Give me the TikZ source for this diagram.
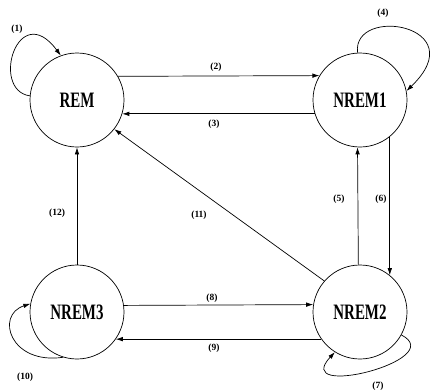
\documentclass[tikz,border=0pt]{standalone}
\usepackage{fontspec}
\usepackage{graphicx}
\setmainfont{Liberation Serif}
\usetikzlibrary{arrows.meta}
\begin{document}
\begin{tikzpicture}[x=1pt,y=-1pt,
  state/.style={draw,circle,line width=0.7pt,minimum size=94pt,inner sep=0pt,
    font=\fontsize{22}{24}\selectfont\bfseries},
  arr/.style={line width=0.7pt,-{Latex[length=7pt,width=4.5pt]}},
  lbl/.style={font=\fontsize{9.5}{11}\selectfont\bfseries,inner sep=1pt}]
\useasboundingbox (0,0) rectangle (431,391);
\node[state] (REM) at (77,100) {\scalebox{0.68}[1]{REM}};
\node[state] (NREM1) at (360,100) {\scalebox{0.68}[1]{NREM1}};
\node[state] (NREM3) at (77,312) {\scalebox{0.68}[1]{NREM3}};
\node[state] (NREM2) at (360,312) {\scalebox{0.68}[1]{NREM2}};
% straight edges
\draw[arr] (REM.30.7) -- (NREM1.149.3);
\draw[arr] (NREM1.197.3) -- (REM.-17.3);
\draw[arr] (NREM3.8.6) -- (NREM2.171.4);
\draw[arr] (NREM2.215.1) -- (NREM3.-35.1);
\draw[arr] (NREM3.north) -- (REM.south);
\draw[arr] (NREM2.92.4) -- (NREM1.267.6);
\draw[arr] (NREM1.-51.9) -- (NREM2.51.9);
\draw[arr] (NREM2.139) -- (REM.-38);
% self loops
\draw[arr] (REM.175) .. controls (-10,90) and (18,-2) .. (REM.110);
\draw[arr] (NREM1.93.6) .. controls (352,5) and (475,25) .. (NREM1.11.8);
\draw[arr] (NREM3.-107) .. controls (10,365) and (-5,315) .. (NREM3.170);
\draw[arr] (NREM2.-29) .. controls (450,360) and (290,400) .. (NREM2.-122.7);
% labels
\node[lbl] (l1) at (17,29) {(1)};
\node[lbl] (l2) at (216,67) {(2)};
\node[lbl] (l3) at (214,124) {(3)};
\node[lbl] (l4) at (383,13) {(4)};
\node[lbl] (l5) at (339,199) {(5)};
\node[lbl] (l6) at (381,199) {(6)};
\node[lbl] (l7) at (378,386) {(7)};
\node[lbl] (l8) at (212,298) {(8)};
\node[lbl] (l9) at (214,348) {(9)};
\node[lbl] (l10) at (25,377) {(10)};
\node[lbl] (l11) at (199,215) {(11)};
\node[lbl] (l12) at (57,213) {(12)};
\end{tikzpicture}
\end{document}
